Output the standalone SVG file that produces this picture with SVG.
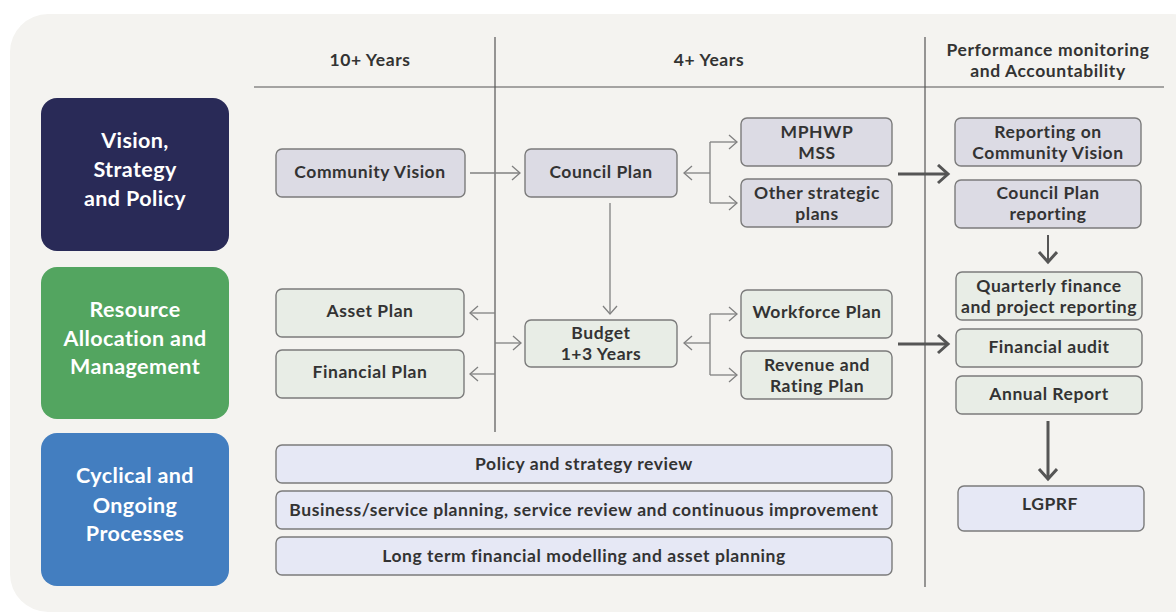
<svg xmlns="http://www.w3.org/2000/svg" width="1176" height="614" viewBox="0 0 1176 614">
  <defs>
    <style>
      .t { font-family: Lato, "Open Sans", "DejaVu Sans", sans-serif; font-size: 17.5px; font-weight: 700; letter-spacing: 0.55px; fill: #333333; text-anchor: middle; }
      .h { font-family: Lato, "Open Sans", "DejaVu Sans", sans-serif; font-size: 17.5px; font-weight: 700; letter-spacing: 0.6px; fill: #333333; text-anchor: middle; }
      .c { font-family: Lato, "Open Sans", "DejaVu Sans", sans-serif; font-size: 21.5px; font-weight: 700; letter-spacing: 0.4px; fill: #ffffff; text-anchor: middle; }
      .n1 { fill: #dcdbe4; stroke: #7b7b7b; stroke-width: 1.4; }
      .n2 { fill: #e8ede6; stroke: #7b7b7b; stroke-width: 1.4; }
      .n3 { fill: #e6e8f5; stroke: #7b7b7b; stroke-width: 1.4; }
      .thin { stroke: #808080; stroke-width: 1.3; fill: none; }
      .thick { stroke: #555555; stroke-width: 3; fill: none; }
      .rule { stroke: #555555; stroke-width: 1.2; fill: none; }
    </style>
    <marker id="a" markerUnits="userSpaceOnUse" markerWidth="12" markerHeight="18" refX="9" refY="8" orient="auto">
      <path d="M1,1 L9,8 L1,15" fill="none" stroke="#808080" stroke-width="1.3"/>
    </marker>
    <marker id="b" markerUnits="userSpaceOnUse" markerWidth="16" markerHeight="22" refX="12" refY="10" orient="auto">
      <path d="M2,1 L12,10 L2,19" fill="none" stroke="#555555" stroke-width="3"/>
    </marker>
  </defs>

  <rect width="1176" height="614" fill="#ffffff"/>
  <rect x="10" y="14" width="1200" height="598" rx="38" fill="#f4f3f0"/>

  <!-- column headers and rules -->
  <g id="headers">
    <text class="h" x="370" y="66">10+ Years</text>
    <text class="h" x="709" y="66">4+ Years</text>
    <text class="h" x="1048" y="55.5">Performance monitoring</text>
    <text class="h" x="1048" y="76.5">and Accountability</text>
    <line class="rule" x1="254" y1="87" x2="1164" y2="87"/>
    <line class="rule" x1="495" y1="37" x2="495" y2="432"/>
    <line class="rule" x1="925" y1="37" x2="925" y2="587"/>
  </g>

  <!-- row categories -->
  <g id="cat-vision">
    <rect x="41" y="98" width="188" height="153" rx="16" fill="#292a57"/>
    <text class="c" x="135" y="148">Vision,</text>
    <text class="c" x="135" y="177">Strategy</text>
    <text class="c" x="135" y="206">and Policy</text>
  </g>
  <g id="cat-resource">
    <rect x="41" y="267" width="188" height="152" rx="16" fill="#53a560"/>
    <text class="c" x="135" y="317">Resource</text>
    <text class="c" x="135" y="346">Allocation and</text>
    <text class="c" x="135" y="374">Management</text>
  </g>
  <g id="cat-cyclical">
    <rect x="41" y="433" width="188" height="153" rx="16" fill="#437ec0"/>
    <text class="c" x="135" y="483">Cyclical and</text>
    <text class="c" x="135" y="513">Ongoing</text>
    <text class="c" x="135" y="541">Processes</text>
  </g>

  <!-- connectors -->
  <g id="connectors">
    <line class="thin" x1="470" y1="173" x2="520" y2="173" marker-end="url(#a)"/>
    <line class="thin" x1="710" y1="173" x2="684" y2="173" marker-end="url(#a)"/>
    <line class="thin" x1="710" y1="142" x2="710" y2="203"/>
    <line class="thin" x1="710" y1="142" x2="737" y2="142" marker-end="url(#a)"/>
    <line class="thin" x1="710" y1="203" x2="737" y2="203" marker-end="url(#a)"/>
    <line class="thin" x1="610" y1="203" x2="610" y2="314" marker-end="url(#a)"/>
    <line class="thin" x1="495" y1="313" x2="470" y2="313" marker-end="url(#a)"/>
    <line class="thin" x1="495" y1="374" x2="470" y2="374" marker-end="url(#a)"/>
    <line class="thin" x1="495" y1="343" x2="521" y2="343" marker-end="url(#a)"/>
    <line class="thin" x1="710" y1="343" x2="684" y2="343" marker-end="url(#a)"/>
    <line class="thin" x1="710" y1="314" x2="710" y2="375"/>
    <line class="thin" x1="710" y1="314" x2="737" y2="314" marker-end="url(#a)"/>
    <line class="thin" x1="710" y1="375" x2="737" y2="375" marker-end="url(#a)"/>
    <line class="thick" x1="898" y1="174" x2="948" y2="174" marker-end="url(#b)"/>
    <line class="thick" x1="898" y1="344" x2="948" y2="344" marker-end="url(#b)"/>
    <line x1="1048" y1="235" x2="1048" y2="262" stroke="#555555" stroke-width="2" marker-end="url(#b)"/>
    <line class="thick" x1="1048" y1="421" x2="1048" y2="479" marker-end="url(#b)"/>
  </g>

  <!-- plans -->
  <g id="community-vision">
    <rect class="n1" x="276" y="149" width="189" height="48" rx="6"/>
    <text class="t" x="370" y="178">Community Vision</text>
  </g>
  <g id="council-plan">
    <rect class="n1" x="525" y="149" width="152" height="48" rx="6"/>
    <text class="t" x="601" y="178">Council Plan</text>
  </g>
  <g id="mphwp">
    <rect class="n1" x="741" y="118" width="151" height="48" rx="6"/>
    <text class="t" x="817" y="137.5">MPHWP</text>
    <text class="t" x="817" y="158.5">MSS</text>
  </g>
  <g id="other-plans">
    <rect class="n1" x="741" y="179" width="151" height="48" rx="6"/>
    <text class="t" x="817" y="198.5">Other strategic</text>
    <text class="t" x="817" y="219.5">plans</text>
  </g>
  <g id="reporting-vision">
    <rect class="n1" x="955" y="118" width="186" height="48" rx="6"/>
    <text class="t" x="1048" y="137.5">Reporting on</text>
    <text class="t" x="1048" y="158.5">Community Vision</text>
  </g>
  <g id="council-reporting">
    <rect class="n1" x="955" y="180" width="186" height="48" rx="6"/>
    <text class="t" x="1048" y="199">Council Plan</text>
    <text class="t" x="1048" y="220">reporting</text>
  </g>

  <g id="asset-plan">
    <rect class="n2" x="276" y="289" width="188" height="48" rx="6"/>
    <text class="t" x="370" y="317">Asset Plan</text>
  </g>
  <g id="financial-plan">
    <rect class="n2" x="276" y="350" width="188" height="48" rx="6"/>
    <text class="t" x="370" y="378">Financial Plan</text>
  </g>
  <g id="budget">
    <rect class="n2" x="525" y="320" width="152" height="47" rx="6"/>
    <text class="t" x="601" y="338.5">Budget</text>
    <text class="t" x="601" y="359.5">1+3 Years</text>
  </g>
  <g id="workforce-plan">
    <rect class="n2" x="741" y="290" width="151" height="48" rx="6"/>
    <text class="t" x="817" y="318">Workforce Plan</text>
  </g>
  <g id="revenue-plan">
    <rect class="n2" x="741" y="351" width="151" height="48" rx="6"/>
    <text class="t" x="817" y="370.5">Revenue and</text>
    <text class="t" x="817" y="391.5">Rating Plan</text>
  </g>
  <g id="quarterly">
    <rect class="n2" x="956" y="272" width="186" height="48" rx="6"/>
    <text class="t" x="1049" y="291.5">Quarterly finance</text>
    <text class="t" x="1049" y="312.5">and project reporting</text>
  </g>
  <g id="financial-audit">
    <rect class="n2" x="956" y="329" width="186" height="38" rx="6"/>
    <text class="t" x="1049" y="353">Financial audit</text>
  </g>
  <g id="annual-report">
    <rect class="n2" x="956" y="376" width="186" height="38" rx="6"/>
    <text class="t" x="1049" y="400">Annual Report</text>
  </g>
  <g id="lgprf">
    <rect class="n3" x="958" y="486" width="186" height="45" rx="6"/>
    <text class="t" x="1050" y="510">LGPRF</text>
  </g>

  <!-- ongoing processes -->
  <g id="policy-review">
    <rect class="n3" x="276" y="445" width="616" height="38" rx="6"/>
    <text class="t" x="584" y="470">Policy and strategy review</text>
  </g>
  <g id="service-planning">
    <rect class="n3" x="276" y="491" width="616" height="38" rx="6"/>
    <text class="t" x="584" y="516">Business/service planning, service review and continuous improvement</text>
  </g>
  <g id="financial-modelling">
    <rect class="n3" x="276" y="537" width="616" height="38" rx="6"/>
    <text class="t" x="584" y="562">Long term financial modelling and asset planning</text>
  </g>
</svg>
